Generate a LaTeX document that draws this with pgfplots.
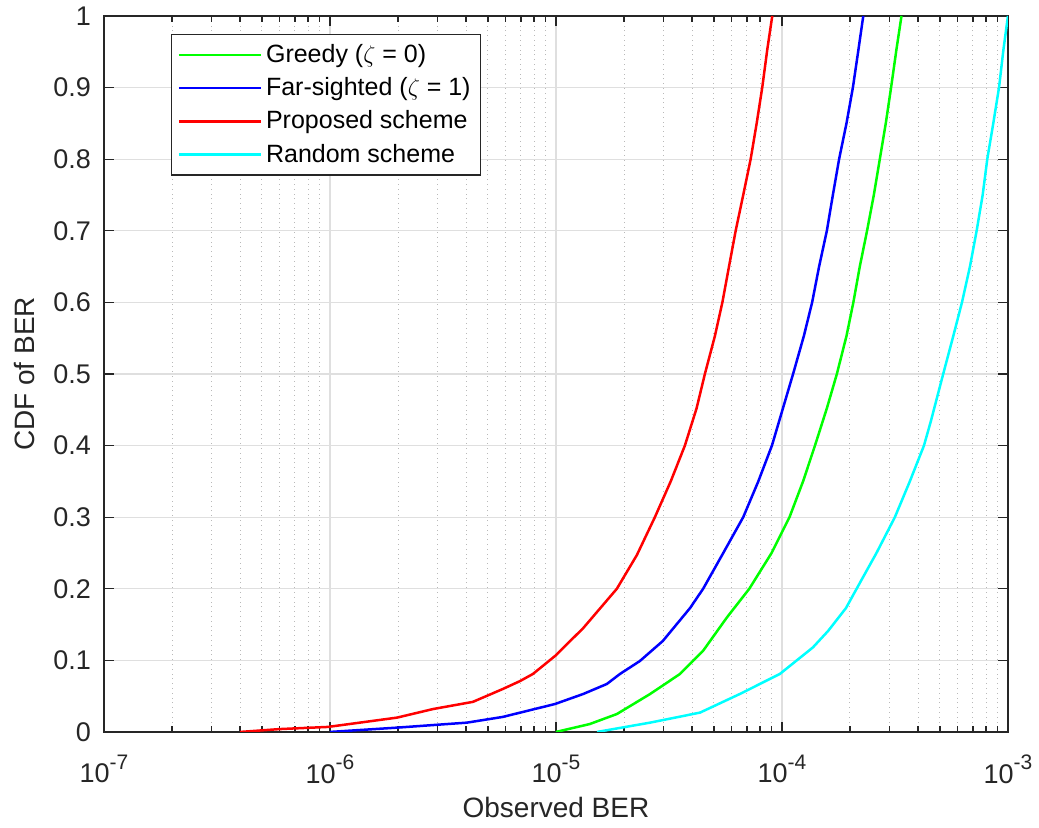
\documentclass[border=0pt]{standalone}
\usepackage{pgfplots}
\pgfplotsset{compat=1.18}
\usepackage{fontspec}
\setmainfont{Liberation Sans}
\definecolor{axgray}{RGB}{38,38,38}
\definecolor{gridgray}{RGB}{223,223,223}
\definecolor{mgreen}{RGB}{0,255,0}
\definecolor{mblue}{RGB}{0,0,255}
\definecolor{mred}{RGB}{255,0,0}
\definecolor{mcyan}{RGB}{0,255,255}
\newcommand{\tenpow}[1]{10\raisebox{0.5em}{\fontsize{10.5}{12}\selectfont #1}}
\begin{document}
\begin{tikzpicture}
\begin{axis}[
  scale only axis,
  width=452pt, height=358pt,
  xmode=log,
  xmin=1e-7, xmax=1e-3,
  ymin=0, ymax=1,
  xtick={1e-7,1e-6,1e-5,1e-4,1e-3},
  xticklabels={\tenpow{-7},\tenpow{-6},\tenpow{-5},\tenpow{-4},\tenpow{-3}},
  ytick={0,0.1,0.2,0.3,0.4,0.5,0.6,0.7,0.8,0.9,1},
  yticklabels={0,0.1,0.2,0.3,0.4,0.5,0.6,0.7,0.8,0.9,1},
  tick align=inside,
  major tick length=5pt,
  minor tick length=3pt,
  xminorgrids=true,
  xmajorgrids=true,
  ymajorgrids=true,
  major grid style={gridgray, line width=0.6pt},
  minor grid style={gray!55, dotted, line width=0.5pt},
  axis line style={axgray, line width=0.6pt},
  every tick/.style={axgray, line width=0.6pt},
  tick label style={font=\fontsize{13.5}{15}\selectfont, text=axgray},
  xticklabel style={yshift=-8pt},
  yticklabel style={xshift=-3pt},
  label style={font=\fontsize{14}{16}\selectfont, text=axgray},
  xlabel={Observed BER},
  ylabel={CDF of BER},
  xlabel style={yshift=0pt},
  ylabel style={yshift=2.5pt},
  legend style={at={(rel axis cs:0,1)}, anchor=north west, xshift=33.5pt, yshift=-9pt,
    draw=axgray, line width=0.6pt, font=\fontsize{12.5}{14}\selectfont, text=black,
    row sep=2pt, inner sep=3pt},
  legend cell align=left,
  legend image code/.code={\draw[#1, line width=1.25pt] (0pt,0pt) -- (41pt,0pt);},
]
\addplot[color=mgreen, line width=1.25pt] coordinates {
(1.0e-5,0) (1.41e-5,0.011) (1.86e-5,0.025) (2.61e-5,0.053) (3.54e-5,0.081)
(4.47e-5,0.113) (5.71e-5,0.16) (7.17e-5,0.2) (9.0e-5,0.25)
(1.08e-4,0.3) (1.24e-4,0.35) (1.40e-4,0.4) (1.58e-4,0.452) (1.75e-4,0.5)
(1.93e-4,0.553) (2.07e-4,0.6) (2.21e-4,0.65) (2.38e-4,0.7) (2.55e-4,0.75)
(2.71e-4,0.8) (2.88e-4,0.85) (3.04e-4,0.9) (3.21e-4,0.953) (3.38e-4,1.0)};
\addlegendentry{Greedy ($\zeta$ = 0)}
\addplot[color=mblue, line width=1.25pt] coordinates {
(1.0e-6,0) (1.98e-6,0.006) (4.04e-6,0.013) (5.82e-6,0.021) (9.9e-6,0.039)
(1.32e-5,0.053) (1.68e-5,0.067) (1.92e-5,0.081) (2.35e-5,0.099) (2.97e-5,0.127)
(3.92e-5,0.173) (4.48e-5,0.2) (5.50e-5,0.25) (6.74e-5,0.3) (7.86e-5,0.35)
(9.03e-5,0.4) (1.01e-4,0.452) (1.12e-4,0.5) (1.25e-4,0.553) (1.36e-4,0.6)
(1.46e-4,0.65) (1.58e-4,0.7) (1.68e-4,0.75) (1.79e-4,0.8) (1.93e-4,0.85)
(2.06e-4,0.9) (2.18e-4,0.953) (2.29e-4,1.0)};
\addlegendentry{Far-sighted ($\zeta$ = 1)}
\addplot[color=mred, line width=1.25pt] coordinates {
(4.0e-7,0) (6.0e-7,0.004) (9.8e-7,0.007) (1.98e-6,0.02) (2.86e-6,0.032)
(4.29e-6,0.042) (5.82e-6,0.06) (6.93e-6,0.071) (7.91e-6,0.081) (9.9e-6,0.106)
(1.32e-5,0.145) (1.86e-5,0.2) (2.28e-5,0.247) (2.74e-5,0.3) (3.22e-5,0.35)
(3.72e-5,0.4) (4.19e-5,0.452) (4.56e-5,0.5) (5.05e-5,0.553) (5.45e-5,0.6)
(5.83e-5,0.65) (6.24e-5,0.7) (6.74e-5,0.75) (7.27e-5,0.8) (7.73e-5,0.85)
(8.18e-5,0.9) (8.61e-5,0.953) (9.06e-5,1.0)};
\addlegendentry{Proposed scheme}
\addplot[color=mcyan, line width=1.25pt] coordinates {
(1.52e-5,0) (2.61e-5,0.013) (4.34e-5,0.027) (6.51e-5,0.053) (9.79e-5,0.081)
(1.37e-4,0.118) (1.60e-4,0.141) (1.92e-4,0.173) (2.14e-4,0.2) (2.62e-4,0.25)
(3.16e-4,0.3) (3.68e-4,0.35) (4.25e-4,0.4) (4.55e-4,0.433) (5.17e-4,0.5)
(5.73e-4,0.553) (6.26e-4,0.6) (6.79e-4,0.65) (7.27e-4,0.7) (7.73e-4,0.75)
(8.10e-4,0.8) (8.61e-4,0.85) (9.13e-4,0.9) (9.55e-4,0.953) (1.0e-3,1.0)};
\addlegendentry{Random scheme}
\end{axis}
\path (current axis.south west) ++(-52pt,-48pt) rectangle ++(519.5pt,413.5pt);
\end{tikzpicture}
\end{document}
